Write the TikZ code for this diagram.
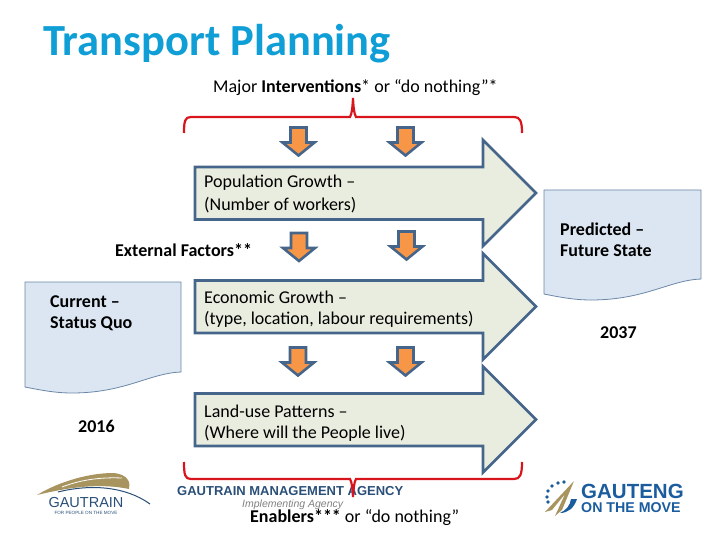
\documentclass[tikz,border=0pt]{standalone}
\usepackage{fontspec}
\setmainfont{Carlito}
\newfontfamily\logofont{Liberation Sans}
\definecolor{arrowfill}{HTML}{E9EDDF}
\definecolor{arrowline}{HTML}{46658A}
\definecolor{docfill}{HTML}{DCE6F2}
\definecolor{docline}{HTML}{6C87A8}
\definecolor{smallfill}{HTML}{F79646}
\definecolor{bracered}{HTML}{D8141C}
\definecolor{titleblue}{HTML}{0F9ED5}
\definecolor{logoblue}{HTML}{2A4F78}
\definecolor{gautengblue}{HTML}{1A5C9E}
\definecolor{logogold}{HTML}{A8945E}
\tikzset{
 bigarrow/.style={draw=arrowline,fill=arrowfill,line width=2.8pt,line join=miter},
 downarrow/.style={draw=arrowline,fill=smallfill,line width=2.6pt,line join=miter},
 docshape/.style={draw=docline,fill=docfill,line width=0.8pt},
 brace/.style={draw=bracered,line width=2.2pt},
 lbl/.style={anchor=west,inner sep=0pt,font=\fontsize{18}{20}\selectfont},
}
\newcommand{\bigarrowat}[1]{\draw[bigarrow] (195,#1) -- (483,#1) -- (483,#1-27) -- (536,#1+26) -- (483,#1+79) -- (483,#1+52.5) -- (195,#1+52.5) -- cycle;}
\newcommand{\downat}[2]{\draw[downarrow] (#1-8,#2) -- (#1+8,#2) -- (#1+8,#2+15) -- (#1+16,#2+15) -- (#1,#2+28) -- (#1-16,#2+15) -- (#1-8,#2+15) -- cycle;}
\begin{document}
\begin{tikzpicture}[x=1pt,y=-1pt]
\useasboundingbox (0,0) rectangle (720,540);
\node[anchor=west,inner sep=0pt,text=titleblue,font=\fontsize{44.5}{48}\selectfont\bfseries] (title) at (43,44) {Transport Planning};
\node[lbl] (major) at (213,88) {Major \textbf{Interventions}* or “do nothing”*};
\draw[brace] (184,133) .. controls (184,121) and (185,117) .. (191,117) -- (350,117) .. controls (352,114) and (352.6,106) .. (353,98) .. controls (353.4,106) and (354,114) .. (356,117) -- (514,117) .. controls (520,117) and (522,121) .. (522,133);
\bigarrowat{167}
\bigarrowat{280.5}
\bigarrowat{393.5}
\downat{298.5}{127.5}
\downat{405.5}{127.5}
\downat{299}{233}
\downat{406.5}{231.5}
\downat{298}{347.5}
\downat{405.5}{347.5}
\node[lbl] (pop1) at (204,183) {Population Growth –};
\node[lbl] (pop2) at (204,205) {(Number of workers)};
\node[lbl] (eco1) at (204,297) {Economic Growth –};
\node[lbl] (eco2) at (204,319) {(type, location, labour requirements)};
\node[lbl] (land1) at (204,411) {Land-use Patterns –};
\node[lbl] (land2) at (204,433) {(Where will the People live)};
\node[lbl] (ext) at (115,250) {\textbf{External Factors**}};
\draw[docshape] (25,282) -- (181,282) -- (181,372) .. controls (150,373) and (125,393) .. (72,393) .. controls (55,393) and (40,390) .. (25,387) -- cycle;
\draw[docshape] (544,190) -- (701,190) -- (701,279) .. controls (670,280) and (645,300) .. (591,300) .. controls (574,300) and (559,297) .. (544,294) -- cycle;
\node[lbl] (cur1) at (50,302) {\textbf{Current –}};
\node[lbl] (cur2) at (50,324) {\textbf{Status Quo}};
\node[lbl] (y16) at (78,426) {\textbf{2016}};
\node[lbl] (pre1) at (560,229) {\textbf{Predicted –}};
\node[lbl] (pre2) at (560,251) {\textbf{Future State}};
\node[lbl] (y37) at (600,333) {\textbf{2037}};
\node[anchor=west,inner sep=0pt,text=logoblue,font=\logofont\fontsize{13}{14}\selectfont\bfseries] (gma) at (177,491) {GAUTRAIN MANAGEMENT AGENCY};
\node[anchor=west,inner sep=0pt,text=gray,font=\logofont\fontsize{10.5}{12}\selectfont\itshape] (impl) at (242,505) {Implementing Agency};
\draw[brace] (184,462) .. controls (184,475) and (185,479) .. (191,479) -- (350,479) .. controls (352,482) and (352.6,490) .. (353,497) .. controls (353.4,490) and (354,482) .. (356,479) -- (514,479) .. controls (520,479) and (522,475) .. (522,462);
\node[lbl] (enab) at (250,518) {\textbf{Enablers***} or “do nothing”};
\fill[logogold] (37,495) .. controls (60,481) and (90,473) .. (113,473) .. controls (128,474) and (131,483) .. (129,489) .. controls (100,483) and (70,487) .. (37,495) -- cycle;
\draw[white,line width=0.8pt] (62,487) .. controls (80,480) and (100,477) .. (122,478);
\draw[logoblue,line width=1pt] (58,492) .. controls (90,484) and (125,486) .. (150,504);
\node[inner sep=0pt,text=logoblue,font=\logofont\fontsize{14.5}{15}\selectfont] (gt) at (86,503) {GAUTRAIN};
\node[inner sep=0pt,text=logoblue,font=\logofont\fontsize{4.6}{5}\selectfont] (gts) at (86,513) {FOR PEOPLE ON THE MOVE};
\node[anchor=west,inner sep=0pt,text=gautengblue,font=\logofont\fontsize{20.5}{22}\selectfont\bfseries] (ga) at (581,491) {GAUTENG};
\node[anchor=west,inner sep=0pt,text=gautengblue,font=\logofont\fontsize{14.2}{16}\selectfont\bfseries] (om) at (581,508) {ON THE MOVE};
\foreach \dx/\dy in {548/502,547/497,548/491,552/486,558/483,564/482}
  \fill[gautengblue] (\dx,\dy) circle (1.8);
\fill[logogold] (574,481) -- (545,512) -- (552,510) -- (565,494) -- (555,516) -- (562,510) -- cycle;
\fill[gautengblue] (577,499) -- (571,499) .. controls (570,506) and (566,510) .. (560,513) .. controls (568,513) and (574,508) .. (577,499) -- cycle;
\end{tikzpicture}
\end{document}
